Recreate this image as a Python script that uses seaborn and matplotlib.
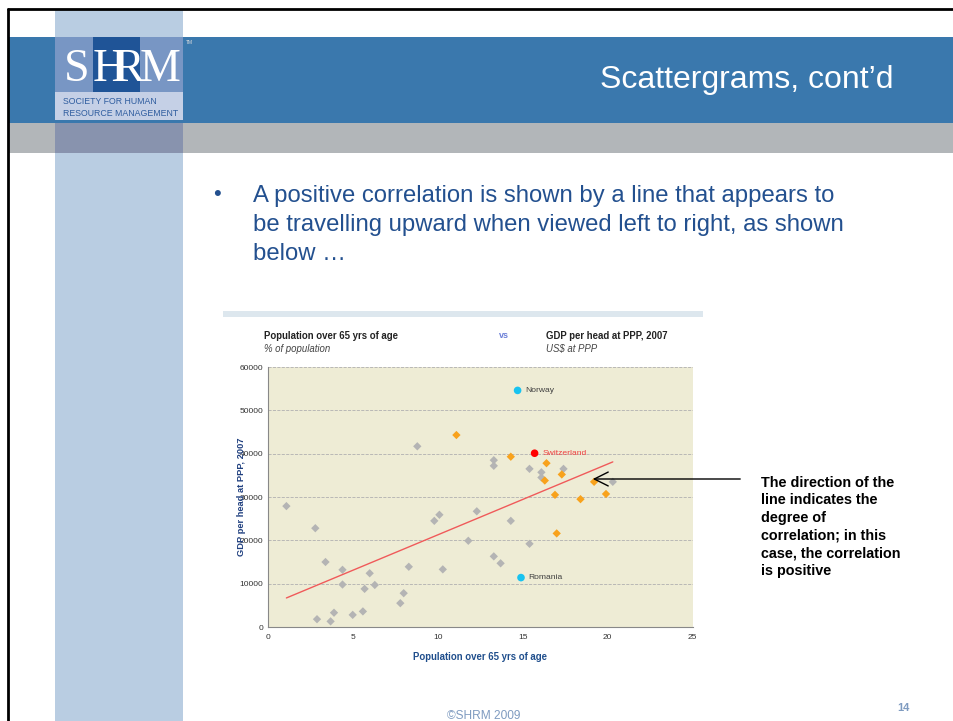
import pandas as pd
import matplotlib.pyplot as plt
from matplotlib.patches import Rectangle
import seaborn as sns

sns.set_style("white")
# Arial-like font
plt.rcParams["font.family"] = ["Liberation Sans", "DejaVu Sans"]

# data: population over 65 (%) vs GDP per head (US$ at PPP)
grey_x = [1.1, 2.8, 2.9, 3.4, 3.7, 3.9, 4.4, 4.4, 5.0, 5.6, 5.7, 6.0, 6.3, 7.8, 8.0, 8.3, 8.8,
          9.8, 10.1, 10.3, 11.8, 12.3, 13.3, 13.3, 13.3, 13.7, 14.3, 15.4, 15.4, 16.1, 16.1, 17.4, 20.3]
grey_y = [27900, 22800, 1800, 15000, 1300, 3300, 13200, 9800, 2800, 3600, 8800, 12400, 9700, 5500, 7800, 13900, 41700,
          24500, 25900, 13300, 19900, 26700, 38500, 37200, 16300, 14700, 24500, 36500, 19200, 35700, 34500, 36500, 33500]
orange_x = [11.1, 14.3, 16.4, 16.3, 17.3, 16.9, 19.2, 18.4, 19.9, 17.0]
orange_y = [44300, 39300, 37800, 33800, 35200, 30500, 33500, 29500, 30700, 21600]
named = ["Norway", "Switzerland", "Romania"]
named_x = [14.7, 15.7, 14.9]
named_y = [54600, 40100, 11400]
named_col = ["#18C3F0", "#FF0000", "#18C3F0"]
label_col = ["#404040", "#F04040", "#404040"]

all_x = grey_x + orange_x + named_x
all_y = grey_y + orange_y + named_y

fig = plt.figure(figsize=(9.54, 7.21), dpi=100)

# slide background, drawn in pixel units
bg = fig.add_axes([0, 0, 1, 1])
bg.set_xlim(0, 954)
bg.set_ylim(721, 0)
bg.axis("off")

bg.add_patch(Rectangle((55, 9), 128, 712, color="#B9CDE2", lw=0))
bg.add_patch(Rectangle((8, 37), 946, 86, color="#3A78AD", lw=0))
bg.add_patch(Rectangle((8, 123), 946, 30, color="#B2B6B9", lw=0))
bg.add_patch(Rectangle((55, 123), 128, 30, color="#8893AE", lw=0))
bg.plot([8, 954], [9, 9], color="black", lw=2)
bg.plot([8, 8], [9, 721], color="black", lw=2)

# SHRM logo
bg.add_patch(Rectangle((55, 37), 128, 55, color="#7896C4", lw=0))
bg.add_patch(Rectangle((93, 37), 47, 55, color="#1F5497", lw=0))
bg.add_patch(Rectangle((55, 92), 128, 28, color="#C5D0E6", lw=0))
for ch, cx in zip("SHRM", [77, 109, 129, 160]):
    bg.text(cx, 81, ch, family="Liberation Serif", fontsize=33, color="white",
            ha="center", va="baseline")
bg.text(63, 102, "SOCIETY FOR HUMAN", fontsize=6.3, color="#2F5D9F", va="center")
bg.text(63, 113, "RESOURCE MANAGEMENT", fontsize=6.3, color="#2F5D9F", va="center")
bg.text(186, 42, "TM", fontsize=3.5, color="#DDDDDD", va="center")

bg.text(600, 80, "Scattergrams, cont\u2019d", fontsize=23, color="white", va="center")

bg.text(213, 195, "\u2022", fontsize=16, color="#23508F", va="center")
bullet = ["A positive correlation is shown by a line that appears to",
          "be travelling upward when viewed left to right, as shown",
          "below \u2026"]
for i, line in enumerate(bullet):
    bg.text(253, 196 + 29 * i, line, fontsize=17.2, color="#23508F", va="center")

# chart frame and titles
bg.add_patch(Rectangle((223, 311), 480, 6, color="#DDE7EE", lw=0))
bg.text(264, 336, "Population over 65 yrs of age", fontsize=6.9, weight="bold", color="#222222", va="center")
bg.text(264, 349, "% of population", fontsize=6.9, style="italic", color="#444444", va="center")
bg.text(499, 336, "vs", fontsize=6.5, weight="bold", color="#6B7FD7", va="center")
bg.text(546, 336, "GDP per head at PPP, 2007", fontsize=6.9, weight="bold", color="#222222", va="center")
bg.text(546, 349, "US$ at PPP", fontsize=6.9, style="italic", color="#444444", va="center")

# the scatter chart
ax = fig.add_axes([267.7 / 954, (721 - 627) / 721, 425 / 954, 260 / 721])
ax.set_facecolor("#EEECD5")
sns.regplot(x=all_x, y=all_y, scatter=False, ci=None, truncate=True, ax=ax,
            color="#F05A5A", line_kws={"lw": 1})
sns.scatterplot(x=grey_x, y=grey_y, marker="D", s=18, color="#B4B4B4", edgecolor="none", ax=ax)
sns.scatterplot(x=orange_x, y=orange_y, marker="D", s=18, color="#F8A21C", edgecolor="none", ax=ax)
sns.scatterplot(x=named_x, y=named_y, marker="o", s=30, hue=named, palette=named_col,
                edgecolor="none", legend=False, ax=ax)
for name, x, y, c in zip(named, named_x, named_y, label_col):
    ax.text(x + 0.45, y, name, fontsize=6.1, color=c, va="center")

ax.set_xlim(0, 25)
ax.set_ylim(0, 60000)
ax.set_xticks([0, 5, 10, 15, 20, 25])
ax.set_yticks(range(0, 60001, 10000))
ax.yaxis.grid(True, ls="--", color="#B0B0B0", lw=0.6)
ax.set_axisbelow(True)
ax.tick_params(labelsize=6, colors="#333333", length=0, pad=5)
ax.tick_params(axis="y", pad=3)
for s in ["top", "right"]:
    ax.spines[s].set_visible(False)
for s in ["left", "bottom"]:
    ax.spines[s].set_color("#888888")
    ax.spines[s].set_linewidth(0.8)
ax.set_xlabel("Population over 65 yrs of age", fontsize=6.9, weight="bold", color="#1F4E8C", labelpad=8)
ax.set_ylabel("GDP per head at PPP, 2007", fontsize=6.7, weight="bold", color="#1F3F7F")
ax.yaxis.set_label_coords(-0.05, 0.5)

# arrow (on the chart axes so it is drawn over the plot) and side note
ax.annotate("", xy=(590, 479), xycoords=bg.transData, xytext=(743, 479), textcoords=bg.transData,
            arrowprops=dict(arrowstyle="->,head_length=1.0,head_width=0.5", color="black", lw=1),
            annotation_clip=False)
note = ["The direction of the", "line indicates the", "degree of",
        "correlation; in this", "case, the correlation", "is positive"]
for i, line in enumerate(note):
    bg.text(761, 483 + 17.5 * i, line, fontsize=10.4, weight="bold", color="black", va="center")

bg.text(447, 716, "\u00a9SHRM 2009", fontsize=8.6, color="#7F9BC0", va="center")
bg.text(897, 708, "14", fontsize=8, weight="bold", color="#7F9BC0", va="center")

fig.savefig("out.png", dpi=100)
